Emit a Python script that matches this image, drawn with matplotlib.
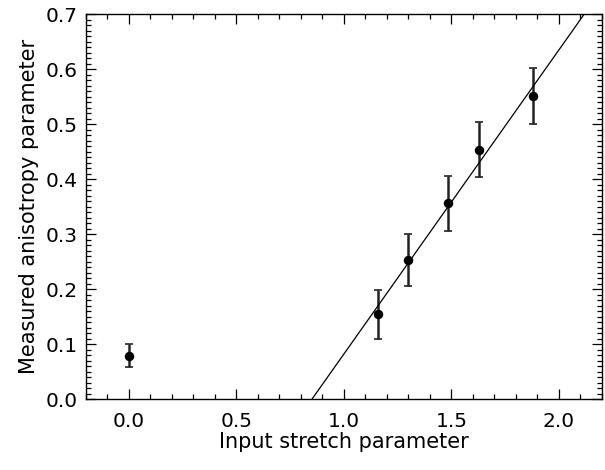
import matplotlib
matplotlib.use("Agg")
import matplotlib.pyplot as plt
import numpy as np
from matplotlib.ticker import MultipleLocator, FormatStrFormatter

# Data
stretch = [0.0, 1.16, 1.30, 1.485, 1.63, 1.88]
anisotropy = [0.079, 0.154, 0.253, 0.356, 0.453, 0.551]
anis_err = [0.021, 0.045, 0.047, 0.050, 0.050, 0.051]

fit_slope = 0.553
fit_intercept = -0.471

x_label = "Input stretch parameter"
y_label = "Measured anisotropy parameter"

plt.rcParams['font.family'] = ['DejaVu Sans']

fig = plt.figure(figsize=(6.05, 4.70), dpi=100)
ax = fig.add_axes([0.142, 0.151, 0.853, 0.819])

ax.errorbar(stretch, anisotropy, yerr=anis_err, fmt='o', color='black',
            ms=5.8, elinewidth=1.8, capsize=3.2, capthick=1.2, ecolor='#222222')

xs = np.array([-0.2, 2.2])
ax.plot(xs, fit_slope * xs + fit_intercept, color='black', lw=0.9)

ax.set_xlim(-0.2, 2.2)
ax.set_ylim(0.0, 0.7)

ax.xaxis.set_major_locator(MultipleLocator(0.5))
ax.xaxis.set_minor_locator(MultipleLocator(0.1))
ax.yaxis.set_major_locator(MultipleLocator(0.1))
ax.yaxis.set_minor_locator(MultipleLocator(0.01))
ax.xaxis.set_major_formatter(FormatStrFormatter('%.1f'))
ax.yaxis.set_major_formatter(FormatStrFormatter('%.1f'))

ax.tick_params(which='both', direction='in', top=True, right=True,
               labelsize=14.5, width=0.9, color='black')
ax.tick_params(which='major', length=7)
ax.tick_params(which='minor', length=3.5)
ax.tick_params(axis='x', which='major', pad=9)
ax.tick_params(axis='y', which='major', pad=6)

for s in ax.spines.values():
    s.set_linewidth(1.0)

ax.set_xlabel(x_label, fontsize=15, labelpad=1)
ax.set_ylabel(y_label, fontsize=15, labelpad=5)

fig.savefig("out.png", dpi=100)
